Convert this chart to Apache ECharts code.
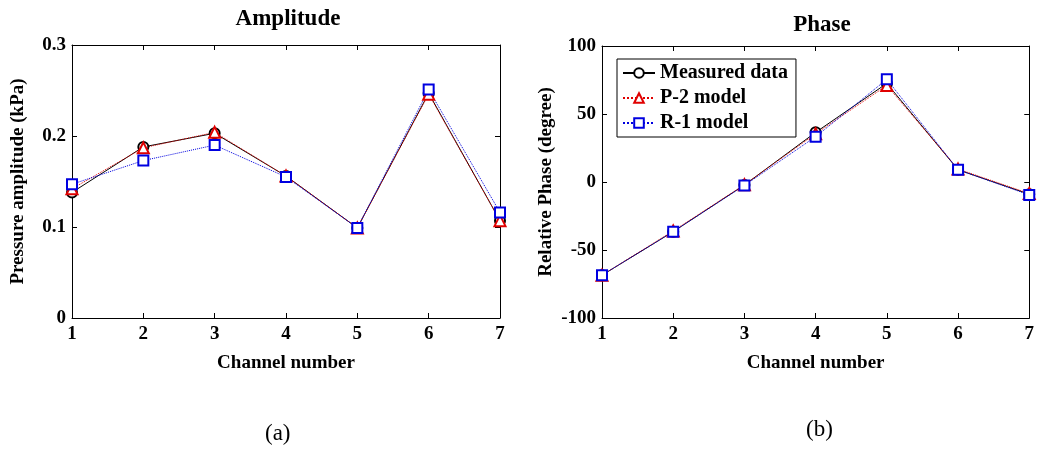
<!DOCTYPE html>
<html><head><meta charset="utf-8">
<script src="https://cdn.jsdelivr.net/npm/echarts@6/dist/echarts.min.js"></script>
<style>html,body{margin:0;padding:0;background:#fff}#c{width:1037px;height:454px}</style>
</head><body><div id="c"></div>
<script>
const channels = [1, 2, 3, 4, 5, 6, 7];
const ampMeasured = [0.138, 0.188, 0.203, 0.156, 0.099, 0.247, 0.107];
const ampP2 = [0.142, 0.187, 0.204, 0.156, 0.099, 0.246, 0.107];
const ampR1 = [0.147, 0.173, 0.190, 0.155, 0.099, 0.251, 0.116];
const phMeasured = [-68.5, -36.5, -2.2, 36.5, 72.5, 9.0, -9.0];
const phP2 = [-68.5, -36.0, -2.0, 35.5, 71.0, 9.5, -8.5];
const phR1 = [-68.5, -36.5, -2.5, 33.3, 75.5, 9.0, -9.5];
const ampTicks = [0, 0.1, 0.2, 0.3];
const phTicks = [-100, -50, 0, 50, 100];

const FONT = '"Liberation Serif", "Times New Roman", serif';
const lbl = {fontFamily: FONT, fontWeight: 'bold', fontSize: 19, color: '#000'};
const nm = {fontFamily: FONT, fontWeight: 'bold', fontSize: 19, color: '#000'};
const pair = (xs, ys) => xs.map((x, i) => [x, ys[i]]);

function xAxes(gi) {
  const base = {type: 'value', gridIndex: gi, min: 1, max: 7, interval: 1,
    axisLine: {show: true, onZero: false, lineStyle: {color: '#000', width: 1}},
    axisTick: {show: true, inside: true, length: 5, lineStyle: {color: '#000'}},
    splitLine: {show: false}};
  return [
    Object.assign({}, base, {position: 'bottom', name: 'Channel number', nameLocation: 'middle', nameGap: 36,
      nameTextStyle: nm, axisLabel: Object.assign({margin: 7}, lbl)}),
    Object.assign({}, base, {position: 'top', axisLabel: {show: false}})
  ];
}
function yAxes(gi, min, max, interval, name, gap) {
  const base = {type: 'value', gridIndex: gi, min: min, max: max, interval: interval,
    axisLine: {show: true, onZero: false, lineStyle: {color: '#000', width: 1}},
    axisTick: {show: true, inside: true, length: 5, lineStyle: {color: '#000'}},
    splitLine: {show: false}};
  return [
    Object.assign({}, base, {position: 'left', name: name, nameLocation: 'middle', nameGap: gap,
      nameTextStyle: nm, axisLabel: Object.assign({margin: 6}, lbl)}),
    Object.assign({}, base, {position: 'right', axisLabel: {show: false}})
  ];
}

function mk(name, data, gi, color, type, symbol) {
  return {name: name, type: 'line', xAxisIndex: gi * 2, yAxisIndex: gi * 2, data: data,
    symbol: symbol, symbolSize: symbol === 'emptyTriangle' ? 11 : 10,
    lineStyle: {color: color, width: 1, type: type},
    itemStyle: {color: color, borderColor: color, borderWidth: 1.2}, animation: false};
}

const chart = echarts.init(document.getElementById('c'), null, {renderer: 'canvas'});
chart.setOption({
  animation: false,
  backgroundColor: '#fff',
  title: [
    {text: 'Amplitude', left: 283, top: 3, textAlign: 'center', textStyle: {fontFamily: FONT, fontWeight: 'bold', fontSize: 23, color: '#000'}},
    {text: 'Phase', left: 817, top: 9, textAlign: 'center', textStyle: {fontFamily: FONT, fontWeight: 'bold', fontSize: 23, color: '#000'}}
  ],
  legend: {
    data: ['Measured data', 'P-2 model', 'R-1 model'],
    orient: 'vertical', left: 617, top: 59, itemGap: 5, itemWidth: 32, itemHeight: 12,
    borderColor: '#000', borderWidth: 1, padding: [4, 8, 4, 5], backgroundColor: '#fff',
    textStyle: {fontFamily: FONT, fontWeight: 'bold', fontSize: 20, color: '#000'}
  },
  grid: [
    {left: 72, top: 45, width: 428, height: 273},
    {left: 602, top: 46, width: 430, height: 272}
  ],
  xAxis: xAxes(0).concat(xAxes(1)),
  yAxis: yAxes(0, 0, 0.3, 0.1, 'Pressure amplitude (kPa)', 44).concat(yAxes(1, -100, 100, 50, 'Relative Phase (degree)', 46)),
  series: [
    mk('Measured data', pair(channels, ampMeasured), 0, '#000', 'solid', 'emptyCircle'),
    mk('P-2 model', pair(channels, ampP2), 0, '#e00000', 'dotted', 'emptyTriangle'),
    mk('R-1 model', pair(channels, ampR1), 0, '#0000e0', 'dotted', 'emptyRect'),
    mk('Measured data', pair(channels, phMeasured), 1, '#000', 'solid', 'emptyCircle'),
    mk('P-2 model', pair(channels, phP2), 1, '#e00000', 'dotted', 'emptyTriangle'),
    mk('R-1 model', pair(channels, phR1), 1, '#0000e0', 'dotted', 'emptyRect')
  ],
  graphic: [
    {type: 'text', left: 265, top: 422, style: {text: '(a)', font: '23px ' + FONT, fill: '#000'}},
    {type: 'text', left: 806, top: 418, style: {text: '(b)', font: '23px ' + FONT, fill: '#000'}}
  ]
});
</script></body></html>
